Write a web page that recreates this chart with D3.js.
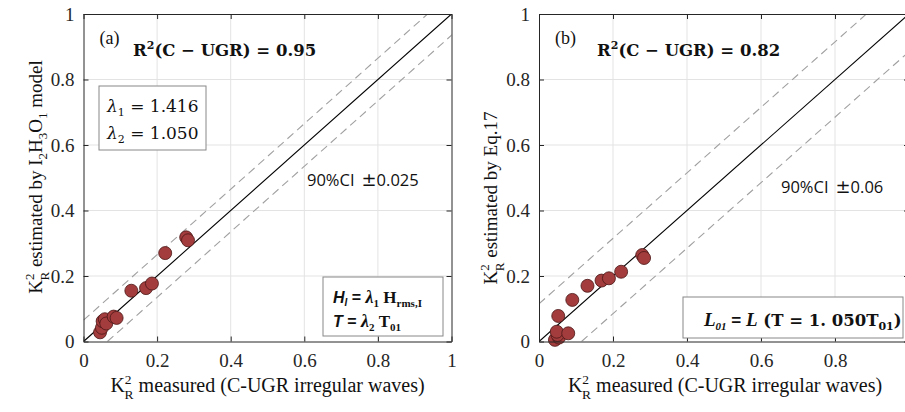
<!DOCTYPE html>
<html><head><meta charset="utf-8">
<script src="https://cdn.jsdelivr.net/npm/d3@7"></script>
<style>body{margin:0;background:#fff}svg{display:block}</style>
</head><body>
<svg id="c" width="905" height="412"></svg>
<script>
const ticks = [0, 0.2, 0.4, 0.6, 0.8, 1];
const tickLabels = ["0", "0.2", "0.4", "0.6", "0.8", "1"];
const measuredA = [0.045, 0.05, 0.052, 0.058, 0.062, 0.082, 0.09, 0.13, 0.17, 0.186, 0.222, 0.279, 0.284];
const estimatedA = [0.028, 0.042, 0.062, 0.068, 0.055, 0.076, 0.072, 0.155, 0.163, 0.177, 0.27, 0.318, 0.309];
const measuredB = [0.043, 0.054, 0.05, 0.048, 0.079, 0.052, 0.09, 0.131, 0.169, 0.189, 0.222, 0.279, 0.284];
const estimatedB = [0.005, 0.012, 0.02, 0.03, 0.025, 0.078, 0.127, 0.17, 0.186, 0.193, 0.213, 0.264, 0.255];
const bandA = 0.065, bandB = 0.115;

const svg = d3.select("#c");
const serif = "'Liberation Serif', 'Times New Roman', serif";
const mserif = "'DejaVu Serif', serif";

function panel(opt) {
  const x = d3.scaleLinear().domain([0, 1]).range([opt.x0, opt.x0 + opt.w]);
  const y = d3.scaleLinear().domain([0, 1]).range([341.5, 14]);
  const g = svg.append("g");
  g.selectAll(".gx").data(ticks.slice(1, -1)).join("line")
    .attr("x1", d => x(d)).attr("x2", d => x(d)).attr("y1", y(0)).attr("y2", y(1))
    .attr("stroke", "#e3e3e3").attr("stroke-width", 1);
  g.selectAll(".gy").data(ticks.slice(1, -1)).join("line")
    .attr("y1", d => y(d)).attr("y2", d => y(d)).attr("x1", x(0)).attr("x2", x(1))
    .attr("stroke", "#e3e3e3").attr("stroke-width", 1);
  const line = d3.line().x(d => x(d[0])).y(d => y(d[1]));
  const clipId = "clip" + opt.name;
  svg.append("clipPath").attr("id", clipId).append("rect")
    .attr("x", x(0)).attr("y", y(1)).attr("width", x(1) - x(0)).attr("height", y(0) - y(1));
  const lg = g.append("g").attr("clip-path", `url(#${clipId})`);
  lg.append("path").attr("d", line([[0, 0], [opt.end, opt.end]])).attr("stroke", "#000").attr("stroke-width", 1.1).attr("fill", "none");
  lg.append("path").attr("d", line([[0, opt.band], [1, 1 + opt.band]])).attr("stroke", "#a0a0a0").attr("stroke-width", 1.1).attr("stroke-dasharray", "8,5").attr("fill", "none");
  lg.append("path").attr("d", line([[opt.band, 0], [1 + opt.band, 1]])).attr("stroke", "#a0a0a0").attr("stroke-width", 1.1).attr("stroke-dasharray", "8,5").attr("fill", "none");
  g.selectAll("circle.p").data(opt.mx.map((v, i) => [v, opt.my[i]])).join("circle")
    .attr("cx", d => x(d[0])).attr("cy", d => y(d[1])).attr("r", 6.5)
    .attr("fill", "#a33d3d").attr("stroke", "#4a1515").attr("stroke-width", 0.8);
  const ax = "#262626";
  const bottom = d3.axisBottom(x).tickValues(ticks).tickFormat((d, i) => (opt.hideLast && i === ticks.length - 1) ? "" : tickLabels[i]).tickSizeInner(-5).tickSizeOuter(0).tickPadding(12);
  const left = d3.axisLeft(y).tickValues(ticks).tickFormat((d, i) => tickLabels[i]).tickSizeInner(-5).tickSizeOuter(0).tickPadding(9);
  const top = d3.axisTop(x).tickValues(ticks).tickFormat("").tickSizeInner(-5).tickSizeOuter(0);
  const right = d3.axisRight(y).tickValues(ticks).tickFormat("").tickSizeInner(-5).tickSizeOuter(0);
  const styleAx = s => {
    s.attr("font-family", serif).attr("font-size", 19);
    s.selectAll("path,line").attr("stroke", ax);
    s.selectAll("text").attr("fill", ax).attr("font-family", serif).style("font-family", serif).style("font-size", "19px");
  };
  g.append("g").attr("transform", `translate(0,${y(0)})`).call(bottom).call(styleAx);
  g.append("g").attr("transform", `translate(${x(0)},0)`).call(left).call(styleAx);
  g.append("g").attr("transform", `translate(0,${y(1)})`).call(top).call(styleAx);
  g.append("g").attr("transform", `translate(${x(1)},0)`).call(right).call(styleAx);
  g.selectAll(".domain").attr("stroke-width", 1);

  g.append("text").attr("x", x(0) + 16).attr("y", 44).text(opt.letter)
    .style("font-family", serif).style("font-size", "18px").attr("fill", "#111");
  const r = g.append("text").attr("x", opt.rx).attr("y", 56).style("font-family", mserif).style("font-weight", "bold").style("font-size", "16.5px").attr("fill", "#111");
  r.append("tspan").text("R");
  r.append("tspan").text("2").attr("dy", -7).style("font-size", "11px");
  r.append("tspan").text("(C − UGR) = 0." + opt.r2).attr("dy", 7);
  const ci = g.append("text").attr("x", opt.cix).attr("y", opt.ciy)
    .style("font-family", "'Open Sans', sans-serif").style("font-size", "16.5px").attr("fill", "#111");
  ci.append("tspan").text(opt.ci[0]);
  ci.append("tspan").text("±").attr("dx", 7).style("font-family", mserif).style("font-size", "18px");
  ci.append("tspan").text(opt.ci[1]);

  const xl = g.append("text").attr("x", x(0) + 184 + opt.xlOff).attr("y", 392).attr("text-anchor", "middle")
    .style("font-family", serif).style("font-size", "20px").attr("fill", "#111");
  xl.append("tspan").text("K");
  xl.append("tspan").text("2").attr("dy", -8).style("font-size", "13.5px");
  xl.append("tspan").text("R").attr("dx", -7).attr("dy", 15).style("font-size", "13.5px");
  xl.append("tspan").text(" measured (C-UGR irregular waves)").attr("dy", -7);
  return { x, y, g };
}

const A = panel({ name: "a", x0: 83.5, w: 368, letter: "(a)", rx: 133, r2: "95", band: bandA, end: 1, mx: measuredA, my: estimatedA, ci: ["90%CI", "0.025"], cix: 307, ciy: 186, xlOff: 0, hideLast: false });
const B = panel({ name: "b", x0: 539, w: 370, letter: "(b)", rx: 597, r2: "82", band: bandB, end: 1, mx: measuredB, my: estimatedB, ci: ["90%CI", "0.06"], cix: 781, ciy: 193, xlOff: 2, hideLast: true });

function ylab(cx, cy, parts) {
  const t = svg.append("text").attr("transform", `translate(${cx},${cy}) rotate(-90)`).attr("text-anchor", "middle")
    .style("font-family", serif).style("font-size", "19px").attr("fill", "#111");
  t.append("tspan").text("K");
  t.append("tspan").text("2").attr("dy", -8).style("font-size", "13px");
  t.append("tspan").text("R").attr("dx", -7).attr("dy", 15).style("font-size", "13px");
  parts.forEach(p => {
    if (p.sub) t.append("tspan").text(p.t).attr("dy", 5).style("font-size", "13px");
    else t.append("tspan").text(p.t).attr("dy", p.dy);
  });
}
ylab(42, 177, [{ t: " estimated by I", dy: -7 }, { t: "2", sub: 1 }, { t: "H", dy: -5 }, { t: "3", sub: 1 }, { t: "O", dy: -5 }, { t: "1", sub: 1 }, { t: " model", dy: -5 }]);
ylab(497, 198, [{ t: " estimated by Eq.17", dy: -7 }]);

const ga = A.g;
ga.append("rect").attr("x", 99).attr("y", 86).attr("width", 107).attr("height", 64).attr("fill", "#fff").attr("stroke", "#888").attr("stroke-width", 1);
[["1", "1.416", 112], ["2", "1.050", 139]].forEach(([s, v, yy]) => {
  const t = ga.append("text").attr("x", 107).attr("y", yy).style("font-family", mserif).style("font-size", "17px").attr("fill", "#111");
  t.append("tspan").text("λ").style("font-style", "italic");
  t.append("tspan").text(s).attr("dy", 4).style("font-size", "11px");
  t.append("tspan").text(" = " + v).attr("dy", -4);
});
ga.append("rect").attr("x", 323).attr("y", 277).attr("width", 120).attr("height", 59).attr("fill", "#fff").attr("stroke", "#888").attr("stroke-width", 1);
{
  const t1 = ga.append("text").attr("x", 333).attr("y", 303).style("font-size", "16px").style("font-weight", "bold").attr("fill", "#111");
  t1.append("tspan").text("H").style("font-family", "'Liberation Sans', sans-serif").style("font-style", "italic");
  t1.append("tspan").text("I").attr("dy", 3).style("font-size", "10px").style("font-family", "'Liberation Sans', sans-serif").style("font-style", "italic");
  t1.append("tspan").text(" = ").attr("dy", -3).style("font-family", "'Liberation Sans', sans-serif");
  t1.append("tspan").text("λ").style("font-family", serif).style("font-style", "italic").style("font-size", "18px");
  t1.append("tspan").text("1").attr("dy", 4).style("font-size", "11px").style("font-family", serif);
  t1.append("tspan").text(" H").attr("dy", -4).style("font-family", serif).style("font-size", "17px");
  t1.append("tspan").text("rms,I").attr("dy", 4).style("font-size", "11px").style("font-family", serif);
  const t2 = ga.append("text").attr("x", 333).attr("y", 327).style("font-size", "16px").style("font-weight", "bold").attr("fill", "#111");
  t2.append("tspan").text("T").style("font-family", "'Liberation Sans', sans-serif").style("font-style", "italic");
  t2.append("tspan").text(" = ").style("font-family", "'Liberation Sans', sans-serif");
  t2.append("tspan").text("λ").style("font-family", serif).style("font-style", "italic").style("font-size", "18px");
  t2.append("tspan").text("2").attr("dy", 4).style("font-size", "11px").style("font-family", serif);
  t2.append("tspan").text(" T").attr("dy", -4).style("font-family", serif).style("font-size", "17px");
  t2.append("tspan").text("01").attr("dy", 4).style("font-size", "11px").style("font-family", serif);
}
const gb = B.g;
gb.append("rect").attr("x", 683).attr("y", 297).attr("width", 220).attr("height", 41).attr("fill", "#fff").attr("stroke", "#888").attr("stroke-width", 1);
{
  const t = gb.append("text").attr("x", 704).attr("y", 326).style("font-size", "17px").style("font-weight", "bold").attr("fill", "#111");
  t.append("tspan").text("L").style("font-family", serif).style("font-style", "italic").style("font-size", "19px");
  t.append("tspan").text("01").attr("dy", 4).style("font-size", "11px").style("font-family", serif).style("font-style", "italic");
  t.append("tspan").text(" = ").attr("dy", -4).style("font-family", "'Liberation Sans', sans-serif");
  t.append("tspan").text("L").style("font-family", serif).style("font-style", "italic").style("font-size", "19px");
  t.append("tspan").text(" (T = 1. 050T").style("font-family", mserif).style("font-size", "16.5px");
  t.append("tspan").text("01").attr("dy", 4).style("font-size", "11px").style("font-family", mserif);
  t.append("tspan").text(")").attr("dy", -4).style("font-family", mserif).style("font-size", "16.5px");
}
</script>
</body></html>
